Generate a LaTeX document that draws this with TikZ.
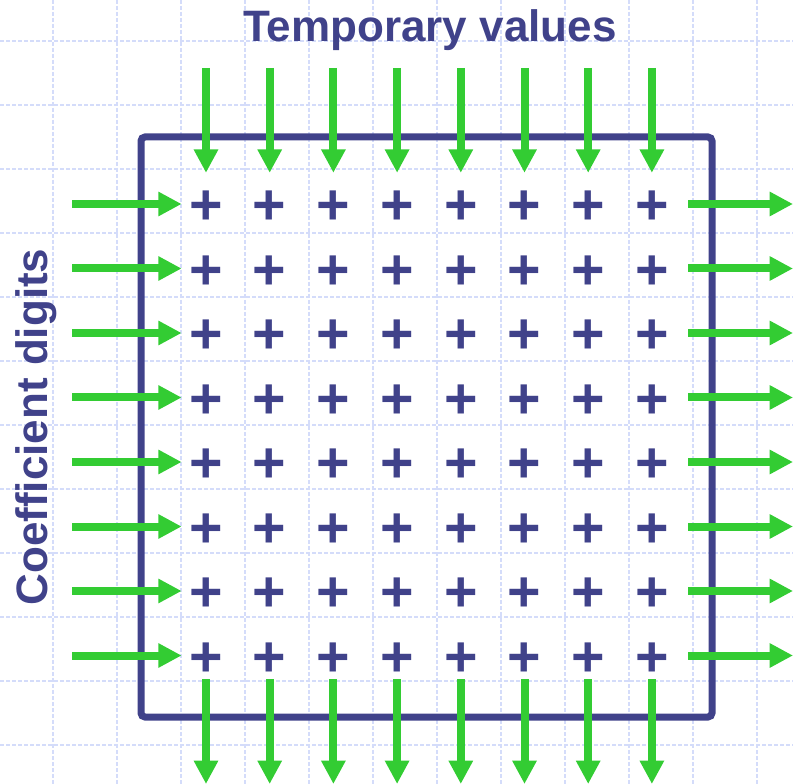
\documentclass[tikz,border=0pt]{standalone}
\usepackage{fontspec}
\setmainfont{Liberation Sans}
\usepackage{xcolor}
\usepackage{tikz}
\usetikzlibrary{arrows.meta}
\definecolor{navy}{RGB}{64,66,138}
\definecolor{leaf}{RGB}{51,204,51}
\definecolor{gridc}{RGB}{212,220,250}

\begin{document}
\begin{tikzpicture}[x=0.75pt,y=-0.75pt,
 gl/.style={draw=gridc,line width=0.9pt,dash pattern=on 3pt off 1.5pt},
 pl/.style={text=navy,inner sep=0pt,font=\fontsize{43}{43}\selectfont\bfseries,text height=31pt,text depth=0pt},
 ar/.style={draw=leaf,line width=6pt,-{Triangle[length=17.5pt,width=17.25pt]}},
 lb/.style={text=navy,font=\fontsize{33}{33}\selectfont\bfseries}]
\useasboundingbox (0,0) rectangle (793,784);
\foreach \k in {0,...,11} {
 \draw[gl] (53+64*\k,0) -- (53+64*\k,784);
 \draw[gl] (0,41+64*\k) -- (793,41+64*\k);
}
\draw[navy,line width=5.25pt,rounded corners=3pt] (141,137) rectangle (712,717);
\foreach \r in {1,...,8}
 \foreach \c in {1,...,8}
  \node[pl] (p\r\c) at ({206+63.7*(\c-1)},{204+64.5*(\r-1)}) {+};
\foreach \i in {1,...,8} {
 \coordinate (t\i) at (p1\i |- 0,68);
 \coordinate (b\i) at (p8\i |- 0,784);
 \coordinate (l\i) at (72,0 |- p\i1);
 \coordinate (r\i) at (793,0 |- p\i8);
 \draw[ar,shorten >=7.7pt] (t\i) -- (p1\i);
 \draw[ar,shorten <=2.1pt] (p8\i) -- (b\i);
 \draw[ar,shorten >=5.5pt] (l\i) -- (p\i1);
 \draw[ar,shorten <=14.5pt] (p\i8) -- (r\i);
}
\node[lb,anchor=base] (ttl) at (430,42) {Temporary values};
\node[lb,rotate=90,anchor=base] (side) at (47,427) {Coefficient digits};
\end{tikzpicture}
\end{document}
